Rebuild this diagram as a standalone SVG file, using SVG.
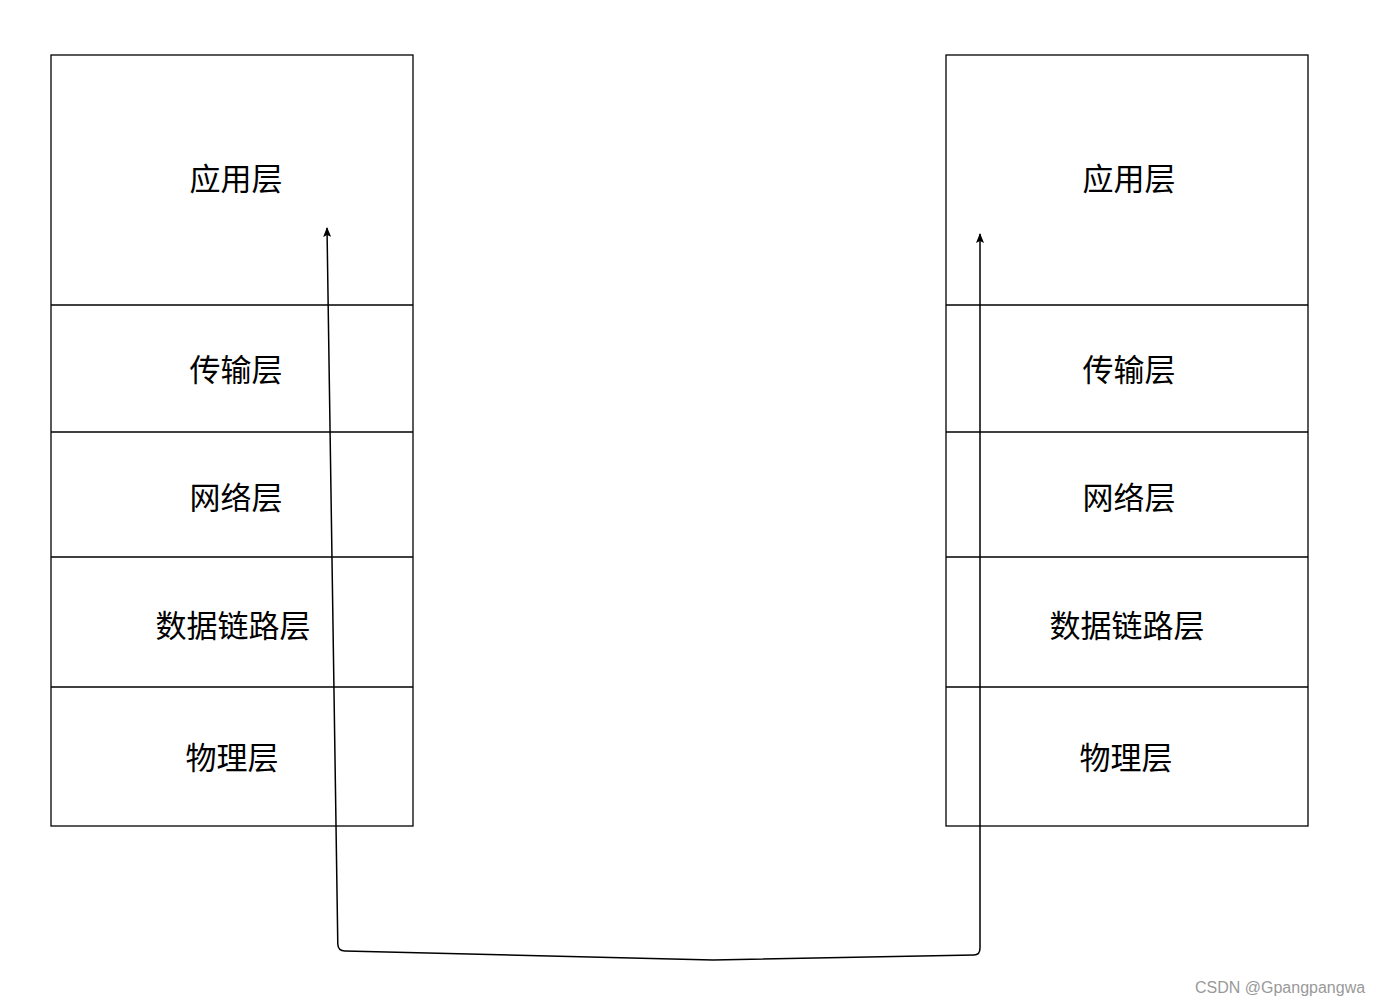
<svg xmlns="http://www.w3.org/2000/svg" width="1376" height="1006" viewBox="0 0 1376 1006">
<style>
.box{fill:#fff;stroke:#000;stroke-width:1.3}
.div{stroke:#000;stroke-width:1.3}
.lbl{font-family:"Noto Sans CJK SC",sans-serif;font-size:31px;fill:#000;text-anchor:middle;dominant-baseline:central}
.wm{font-family:"Liberation Sans",Arial,sans-serif;font-size:16px;fill:#999}
.conn{fill:none;stroke:#000;stroke-width:1.5}
</style>
<defs>
<marker id="ah" markerWidth="10" markerHeight="8" refX="9" refY="4" orient="auto-start-reverse" markerUnits="userSpaceOnUse" viewBox="0 0 10 8">
<path d="M0,0 L10,4 L0,8 L2,4 Z" fill="#000"/>
</marker>
</defs>
<rect width="1376" height="1006" fill="#fff"/>
<g id="left-stack">
<rect class="box" x="51" y="55" width="362" height="771"/>
<line class="div" x1="51" y1="305" x2="413" y2="305"/>
<line class="div" x1="51" y1="432" x2="413" y2="432"/>
<line class="div" x1="51" y1="557" x2="413" y2="557"/>
<line class="div" x1="51" y1="687" x2="413" y2="687"/>
</g>
<g id="left-app"><text class="lbl" x="236" y="176">应用层</text></g>
<g id="left-transport"><text class="lbl" x="236" y="367">传输层</text></g>
<g id="left-network"><text class="lbl" x="236" y="495">网络层</text></g>
<g id="left-datalink"><text class="lbl" x="233" y="623">数据链路层</text></g>
<g id="left-physical"><text class="lbl" x="232" y="755">物理层</text></g>
<g id="right-stack">
<rect class="box" x="946" y="55" width="362" height="771"/>
<line class="div" x1="946" y1="305" x2="1308" y2="305"/>
<line class="div" x1="946" y1="432" x2="1308" y2="432"/>
<line class="div" x1="946" y1="557" x2="1308" y2="557"/>
<line class="div" x1="946" y1="687" x2="1308" y2="687"/>
</g>
<g id="right-app"><text class="lbl" x="1129" y="176">应用层</text></g>
<g id="right-transport"><text class="lbl" x="1129" y="367">传输层</text></g>
<g id="right-network"><text class="lbl" x="1129" y="495">网络层</text></g>
<g id="right-datalink"><text class="lbl" x="1127" y="623">数据链路层</text></g>
<g id="right-physical"><text class="lbl" x="1126" y="755">物理层</text></g>
<g id="connectors">
<path class="conn" d="M327,228 L337.8,944 Q338,951 345,951 L713,960 L974,955 Q980,955 980,948 L980,234" marker-start="url(#ah)" marker-end="url(#ah)"/>
</g>
<text class="wm" x="1195" y="993">CSDN @Gpangpangwa</text>
</svg>
